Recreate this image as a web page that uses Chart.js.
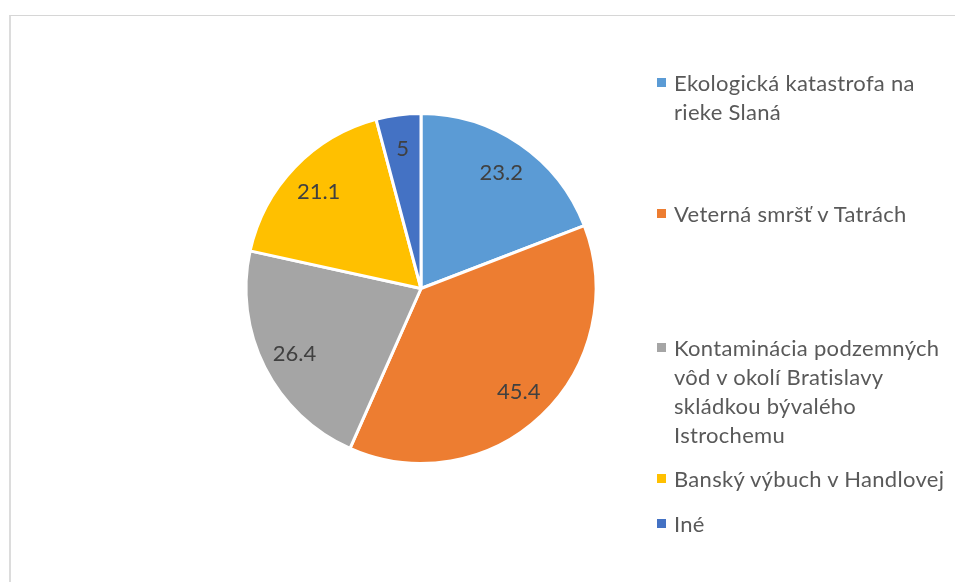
<!DOCTYPE html>
<html>
<head>
<meta charset="utf-8">
<script src="https://cdn.jsdelivr.net/npm/chart.js@4.4.1/dist/chart.umd.min.js"></script>
<style>
    html, body {
        margin: 0;
        padding: 0;
        background: #ffffff;
        width: 955px;
        height: 582px;
        overflow: hidden;
    }
    .frame {
        position: absolute;
        left: 9px;
        top: 15px;
        width: 1000px;
        height: 1000px;
        border-left: 2px solid #dcdcdc;
        border-top: 1px solid #d6d6d6;
    }
    .chart-box {
        position: absolute;
        left: 0;
        top: 0;
        width: 955px;
        height: 582px;
    }
    .legend-item {
        position: absolute;
        left: 657px;
        width: 298px;
        font-family: Lato, 'Open Sans', sans-serif;
        font-size: 22px;
        letter-spacing: 0.3px;
        line-height: 29px;
        color: #595959;
    }
    .legend-swatch {
        position: absolute;
        left: 0;
        top: 10px;
        width: 9px;
        height: 9px;
    }
    .legend-text {
        margin-left: 17px;
        width: 281px;
    }
</style>
</head>
<body>
<div class="frame"></div>
<div class="chart-box"><canvas id="pieChart" width="955" height="582"></canvas></div>
<div id="legend"></div>

<script>
const categories = [
    'Ekologická katastrofa na rieke Slaná',
    'Veterná smršť v Tatrách',
    'Kontaminácia podzemných vôd v okolí Bratislavy skládkou bývalého Istrochemu',
    'Banský výbuch v Handlovej',
    'Iné'
];
const values = [23.2, 45.4, 26.4, 21.1, 5];

const sliceColors = ['#5b9bd5', '#ed7d31', '#a5a5a5', '#ffc000', '#4472c4'];
// top of each legend entry (px)
const legendTops = [68, 199, 333, 464, 509];

const labelPlugin = {
    id: 'sliceLabels',
    afterDatasetsDraw(chart) {
        const ctx = chart.ctx;
        const meta = chart.getDatasetMeta(0);
        ctx.save();
        ctx.font = '22px Lato, "Open Sans", sans-serif';
        ctx.fillStyle = '#404040';
        ctx.textAlign = 'center';
        ctx.textBaseline = 'middle';
        meta.data.forEach((arc, i) => {
            const p = arc.getProps(['x', 'y', 'startAngle', 'endAngle', 'outerRadius']);
            const mid = (p.startAngle + p.endAngle) / 2;
            const r = p.outerRadius * 0.81;
            ctx.fillText(String(values[i]), p.x + Math.cos(mid) * r, p.y + Math.sin(mid) * r + 1);
        });
        ctx.restore();
    }
};

function buildLegend() {
    const box = document.getElementById('legend');
    box.innerHTML = categories.map((cat, i) => `
        <div class="legend-item" style="top: ${legendTops[i]}px">
            <div class="legend-swatch" style="background-color: ${sliceColors[i]}"></div>
            <div class="legend-text">${cat}</div>
        </div>
    `).join('');
}

function initChart() {
    const ctx = document.getElementById('pieChart').getContext('2d');
    new Chart(ctx, {
        type: 'pie',
        data: {
            labels: categories,
            datasets: [{
                data: values,
                backgroundColor: sliceColors,
                borderColor: '#ffffff',
                borderWidth: 3
            }]
        },
        options: {
            responsive: false,
            animation: false,
            radius: 175,
            layout: {
                padding: { left: 0, right: 113, top: 0, bottom: 5 }
            },
            plugins: {
                legend: { display: false },
                tooltip: { enabled: false }
            }
        },
        plugins: [labelPlugin]
    });
}

buildLegend();
initChart();
</script>
</body>
</html>
